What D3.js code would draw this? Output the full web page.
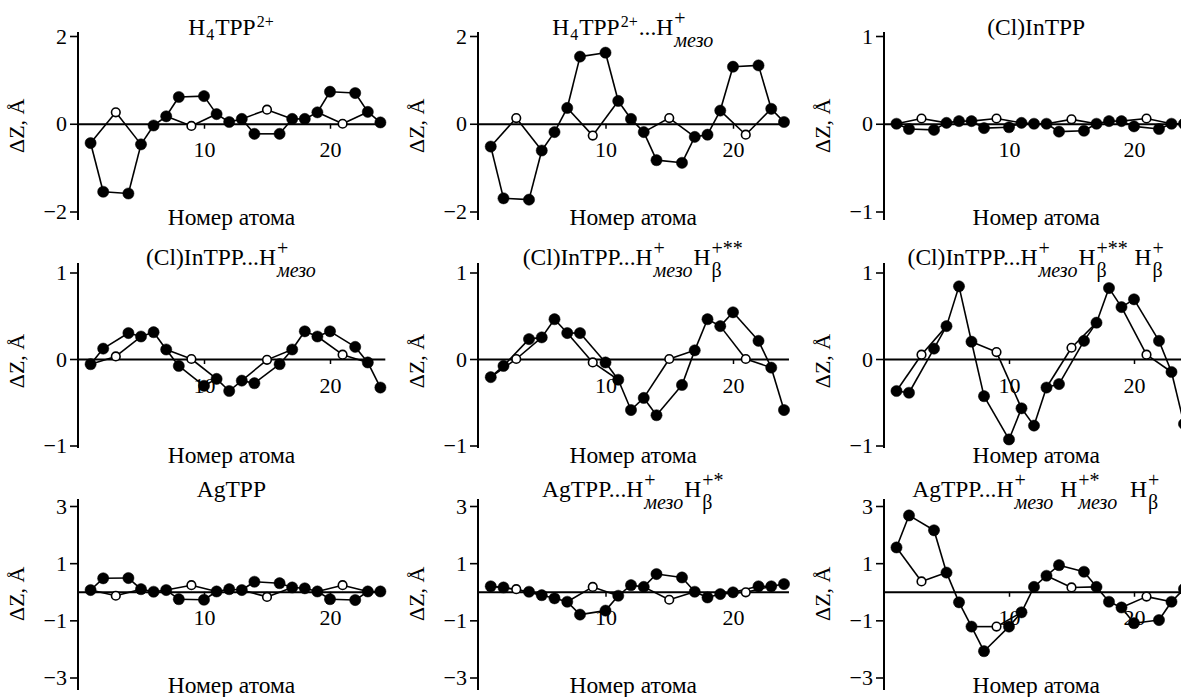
<!DOCTYPE html>
<html>
<head>
<meta charset="utf-8">
<script src="https://cdn.jsdelivr.net/npm/d3@7"></script>
<style>
  body { margin: 0; background: #fff; }
  svg { display: block; }
  svg text { font-family: 'Liberation Serif', 'Times New Roman', serif; fill: #000; }
</style>
</head>
<body>
<div id="chart"></div>
<script>
// atom numbers along the x axis, open circles are the nitrogen atoms
const atomNumbers = d3.range(1, 25)
const nitrogenAtoms = [3, 9, 15, 21]
const xTicks = [10, 20]
const xLabel = 'Номер атома'
const yLabel = 'ΔZ, Å'

// ΔZ (Å) for atoms 1..24
const dzH4TPP = [-0.44, -1.55, 0.26, -1.59, -0.47, -0.04, 0.17, 0.61, -0.05, 0.63, 0.22, 0.04, 0.11, -0.23, 0.32, -0.23, 0.11, 0.11, 0.26, 0.73, 0.00, 0.70, 0.27, 0.03]
const dzH4TPPMeso = [-0.52, -1.70, 0.13, -1.73, -0.61, -0.19, 0.36, 1.53, -0.27, 1.62, 0.52, 0.11, -0.19, -0.83, 0.13, -0.89, -0.30, -0.25, 0.30, 1.30, -0.25, 1.33, 0.34, 0.04]
const dzInTPP = [0.00, -0.06, 0.06, -0.07, 0.01, 0.03, 0.03, -0.05, 0.06, -0.04, 0.01, 0.00, 0.00, -0.09, 0.05, -0.08, 0.00, 0.03, 0.03, -0.03, 0.06, -0.06, 0.00, 0.00]
const dzInTPPMeso = [-0.06, 0.12, 0.03, 0.30, 0.26, 0.31, 0.11, -0.08, 0.00, -0.31, -0.23, -0.37, -0.25, -0.28, -0.01, -0.06, 0.11, 0.32, 0.26, 0.32, 0.05, 0.14, -0.04, -0.33]
const dzInTPPMesoB = [-0.21, -0.08, 0.00, 0.23, 0.25, 0.46, 0.30, 0.30, -0.04, -0.04, -0.24, -0.59, -0.45, -0.65, 0.00, -0.30, 0.10, 0.46, 0.38, 0.54, 0.00, 0.21, -0.10, -0.59]
const dzInTPPMesoBB = [-0.37, -0.39, 0.05, 0.12, 0.38, 0.84, 0.20, -0.43, 0.08, -0.93, -0.57, -0.77, -0.33, -0.29, 0.13, 0.21, 0.42, 0.82, 0.60, 0.69, 0.05, 0.21, -0.15, -0.75]
const dzAgTPP = [0.06, 0.47, -0.14, 0.48, 0.09, 0.00, 0.06, -0.26, 0.23, -0.28, 0.01, 0.09, 0.06, 0.35, -0.18, 0.30, 0.15, 0.12, 0.01, -0.26, 0.23, -0.29, 0.01, 0.01]
const dzAgTPPMesoB = [0.19, 0.15, 0.09, 0.00, -0.12, -0.23, -0.35, -0.80, 0.17, -0.66, -0.14, 0.23, 0.17, 0.62, -0.28, 0.50, 0.00, -0.20, -0.08, -0.02, -0.02, 0.19, 0.19, 0.27]
const dzAgTPPMesoMesoB = [1.55, 2.67, 0.36, 2.15, 0.67, -0.37, -1.22, -2.08, -1.22, -1.22, -0.72, 0.17, 0.56, 0.93, 0.15, 0.70, 0.17, -0.35, -0.55, -1.10, -0.17, -0.99, -0.35, 0.10]

const panelValues = [dzH4TPP, dzH4TPPMeso, dzInTPP, dzInTPPMeso, dzInTPPMesoB, dzInTPPMesoBB, dzAgTPP, dzAgTPPMesoB, dzAgTPPMesoMesoB]
const panelYTicks = [[-2, 0, 2], [-2, 0, 2], [-1, 0, 1], [-1, 0, 1], [-1, 0, 1], [-1, 0, 1], [-3, -1, 1, 3], [-3, -1, 1, 3], [-3, -1, 1, 3]]

// titles: plain strings, or script pieces {sup, sub}
const meso = { sup: '+', sub: 'мезо', italic: true }
const panelTitles = [
  ['H', { sub: '4' }, 'TPP', { sup: '2+' }],
  ['H', { sub: '4' }, 'TPP', { sup: '2+' }, '...H', meso],
  ['(Cl)InTPP'],
  ['(Cl)InTPP...H', meso],
  ['(Cl)InTPP...H', meso, 'H', { sup: '+**', sub: 'β' }],
  ['(Cl)InTPP...H', meso, 'H', { sup: '+**', sub: 'β' }, ' H', { sup: '+', sub: 'β' }],
  ['AgTPP'],
  ['AgTPP...H', meso, 'H', { sup: '+*', sub: 'β' }],
  ['AgTPP...H', meso, ' H', { sup: '+*', sub: 'мезо', italic: true }, '  H', { sup: '+', sub: 'β' }]
]

// bonds of the core: four pyrrole rings joined by meso atoms
const bonds = []
for (let b = 1; b <= 19; b += 6) {
  bonds.push([b, b + 1], [b + 1, b + 3], [b + 3, b + 4], [b + 4, b + 2], [b + 2, b], [b + 4, b + 5])
  if (b + 6 <= 24) bonds.push([b + 5, b + 6])
}

// layout
const width = 1181
const height = 697
const colAxisX = [78, 478, 884]
const colUnit = [12.6, 12.75, 12.5]
const xMax = 24.35
const rowTickPx = [[36, 211.5], [272.5, 445.5], [506, 677.5]]
const rowAxisPx = [[32, 220], [263, 448], [499, 690]]
const rowTitleY = [35, 265, 497]
const rowXLabelY = [225, 463, 693]
const fontFamily = "'Liberation Serif', 'Times New Roman', serif"

const svg = d3.select('#chart')
  .append('svg')
  .attr('width', width)
  .attr('height', height)
  .attr('font-family', fontFamily)

const fmt = d => d < 0 ? '\u2212' + (-d) : String(d)

function drawTitle (g, segs, cx, y) {
  const t = g.append('g')
  let x = 0
  segs.forEach(s => {
    if (typeof s === 'string') {
      const el = t.append('text')
        .attr('x', x)
        .attr('y', 0)
        .style('font-size', '23.5px')
        .style('white-space', 'pre')
        .text(s)
      x += el.node().getComputedTextLength()
      return
    }
    const stacked = s.sup && s.sub
    const size = stacked ? 20 : 16
    let w = 0
    if (s.sup) {
      const el = t.append('text')
        .attr('x', x + 1)
        .attr('y', stacked ? -10 : -8)
        .style('font-size', size + 'px')
        .text(s.sup)
      w = Math.max(w, el.node().getComputedTextLength())
    }
    if (s.sub) {
      const el = t.append('text')
        .attr('x', x + 1)
        .attr('y', stacked ? 12 : 5)
        .style('font-size', size + 'px')
        .style('font-style', s.italic ? 'italic' : 'normal')
        .text(s.sub)
      w = Math.max(w, el.node().getComputedTextLength())
    }
    x += w + 2
  })
  t.attr('transform', `translate(${cx - x / 2},${y})`)
}

panelValues.forEach((values, i) => {
  const col = i % 3
  const row = Math.floor(i / 3)
  const ticks = panelYTicks[i]
  const g = svg.append('g')

  const x = d3.scaleLinear()
    .domain([0, xMax])
    .range([colAxisX[col], colAxisX[col] + xMax * colUnit[col]])
  const y = d3.scaleLinear()
    .domain([ticks[0], ticks[ticks.length - 1]])
    .range([rowTickPx[row][1], rowTickPx[row][0]])

  // y axis
  const yAxis = g.append('g')
    .attr('transform', `translate(${colAxisX[col]},0)`)
    .call(d3.axisLeft(y).tickValues(ticks).tickFormat(fmt).tickSize(8).tickPadding(3))
    .attr('font-family', fontFamily)
    .attr('font-size', 22)
  yAxis.select('.domain').remove()
  yAxis.append('line')
    .attr('y1', rowAxisPx[row][0])
    .attr('y2', rowAxisPx[row][1])
    .attr('stroke', '#000')
    .attr('stroke-width', 2)
  yAxis.selectAll('.tick line').attr('stroke', '#000').attr('stroke-width', 1.6)
  yAxis.selectAll('.tick text').attr('fill', '#000')

  // x axis along the zero line
  const xAxis = g.append('g')
    .attr('transform', `translate(0,${y(0)})`)
    .call(d3.axisBottom(x).tickValues(xTicks).tickSize(5).tickSizeOuter(0).tickPadding(13))
    .attr('font-family', fontFamily)
    .attr('font-size', 22)
  xAxis.select('.domain').attr('stroke', '#000').attr('stroke-width', 1.8)
  xAxis.selectAll('.tick line').attr('stroke', '#000').attr('stroke-width', 1.5)
  xAxis.selectAll('.tick text').attr('fill', '#000')

  // axis titles
  g.append('text')
    .attr('transform', `translate(${colAxisX[col] - 62},${y(0) + 2}) rotate(-90)`)
    .attr('text-anchor', 'middle')
    .attr('dy', '0.35em')
    .style('font-size', '22px')
    .text(yLabel)

  const cx = (x.range()[0] + x.range()[1]) / 2
  g.append('text')
    .attr('x', cx)
    .attr('y', rowXLabelY[row])
    .attr('text-anchor', 'middle')
    .style('font-size', '23.5px')
    .text(xLabel)

  drawTitle(g, panelTitles[i], cx, rowTitleY[row])

  // bonds
  g.append('g')
    .selectAll('line')
    .data(bonds)
    .enter().append('line')
    .attr('x1', d => x(d[0]))
    .attr('y1', d => y(values[d[0] - 1]))
    .attr('x2', d => x(d[1]))
    .attr('y2', d => y(values[d[1] - 1]))
    .attr('stroke', '#000')
    .attr('stroke-width', 1.6)

  // atoms
  g.append('g')
    .selectAll('circle')
    .data(atomNumbers)
    .enter().append('circle')
    .attr('cx', d => x(d))
    .attr('cy', d => y(values[d - 1]))
    .attr('r', d => nitrogenAtoms.includes(d) ? 4.3 : 5.6)
    .attr('fill', d => nitrogenAtoms.includes(d) ? '#fff' : '#000')
    .attr('stroke', '#000')
    .attr('stroke-width', d => nitrogenAtoms.includes(d) ? 1.6 : 0.5)
})
</script>
</body>
</html>
